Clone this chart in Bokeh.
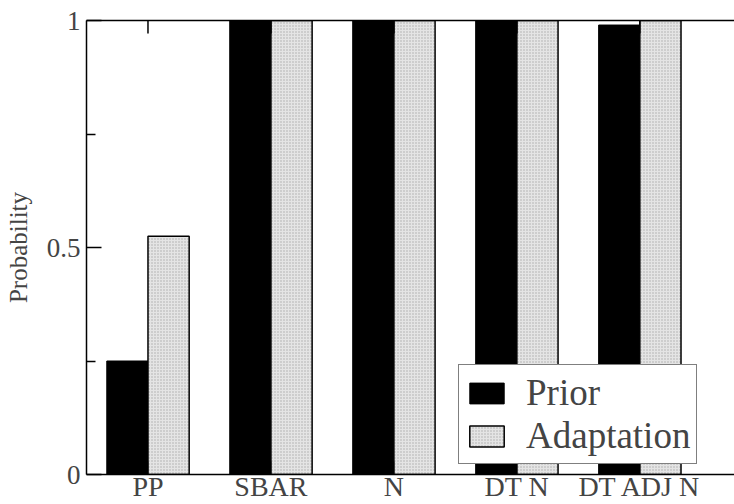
import math
from bokeh.plotting import figure
from bokeh.models import (ColumnDataSource, FixedTicker, LinearAxis, Range1d,
                          Legend, LegendItem)
from bokeh.embed import file_html
from bokeh.resources import INLINE

categories = ["PP", "SBAR", "N", "DT N", "DT ADJ N"]
prior = [0.25, 1.0, 1.0, 1.0, 0.99]
adaptation = [0.525, 1.0, 1.0, 1.0, 1.0]
y_ticks = [0, 0.5, 1]
y_minor = [0.25, 0.75]

pos = list(range(1, len(categories) + 1))
bw = 0.335
src = ColumnDataSource(dict(
    xp=[x - bw / 2 for x in pos],
    xa=[x + bw / 2 for x in pos],
    prior=prior,
    adaptation=adaptation,
))

FONT = "Liberation Serif"

p = figure(width=734, height=504, output_backend="svg", toolbar_location=None,
           x_range=Range1d(0.5, 5.77), y_range=Range1d(0, 1),
           min_border_left=86, min_border_top=20, min_border_bottom=29,
           min_border_right=0)
p.outline_line_color = None
p.grid.visible = False
p.background_fill_color = "white"

r_prior = p.vbar(x="xp", top="prior", width=bw, source=src,
                 fill_color="black", line_color="black", line_width=1)
r_adapt = p.vbar(x="xa", top="adaptation", width=bw, source=src,
                 fill_color="#e4e4e4", line_color="black", line_width=1.5,
                 hatch_pattern=".", hatch_color="#aaaaaa", hatch_scale=3,
                 hatch_weight=1)

# top-edge category ticks (inward), clipped to the frame
p.scatter(x=pos, y=[max(y_ticks)] * len(pos), marker="dash", size=26,
          angle=math.pi / 2, line_color="black", line_width=1.5)

# y axis
ya = p.yaxis[0]
ya.ticker = FixedTicker(ticks=y_ticks, minor_ticks=y_minor)
ya.major_label_overrides = {0: "0", 0.5: "0.5", 1: "1"}
ya.axis_label = "Probability"
ya.axis_label_text_font = FONT
ya.axis_label_text_font_style = "normal"
ya.axis_label_text_font_size = "25px"
ya.axis_label_standoff = 12
ya.major_label_text_font = FONT
ya.major_label_text_font_size = "27px"
ya.major_label_standoff = 6
ya.major_tick_in = 15
ya.major_tick_out = 0
ya.minor_tick_in = 9
ya.minor_tick_out = 0
ya.axis_line_width = 1.5
ya.major_tick_line_width = 1.5
ya.minor_tick_line_width = 1.5

# x axis
xa = p.xaxis[0]
xa.ticker = FixedTicker(ticks=pos, minor_ticks=[])
xa.major_label_overrides = {i: c for i, c in zip(pos, categories)}
xa.major_label_text_font = FONT
xa.major_label_text_font_size = "28px"
xa.major_label_standoff = -4
xa.major_tick_in = 13
xa.major_tick_out = 0
xa.axis_line_width = 1.5
xa.major_tick_line_width = 1.5

top = LinearAxis(ticker=FixedTicker(ticks=[], minor_ticks=[]),
                 major_tick_in=0, major_tick_out=0,
                 axis_line_width=1.5)
p.add_layout(top, "above")

legend = Legend(items=[LegendItem(label="Prior", renderers=[r_prior]),
                       LegendItem(label="Adaptation", renderers=[r_adapt])],
                location=(372, 10))
legend.label_text_font = FONT
legend.label_text_font_size = "37px"
legend.glyph_width = 43
legend.glyph_height = 26
legend.label_height = 26
legend.spacing = 0
legend.padding = 6
legend.margin = 0
legend.label_standoff = 18
legend.border_line_color = "black"
legend.border_line_width = 1.5
legend.background_fill_alpha = 1
p.add_layout(legend, "center")

open("out.html", "w").write(file_html(p, INLINE))
